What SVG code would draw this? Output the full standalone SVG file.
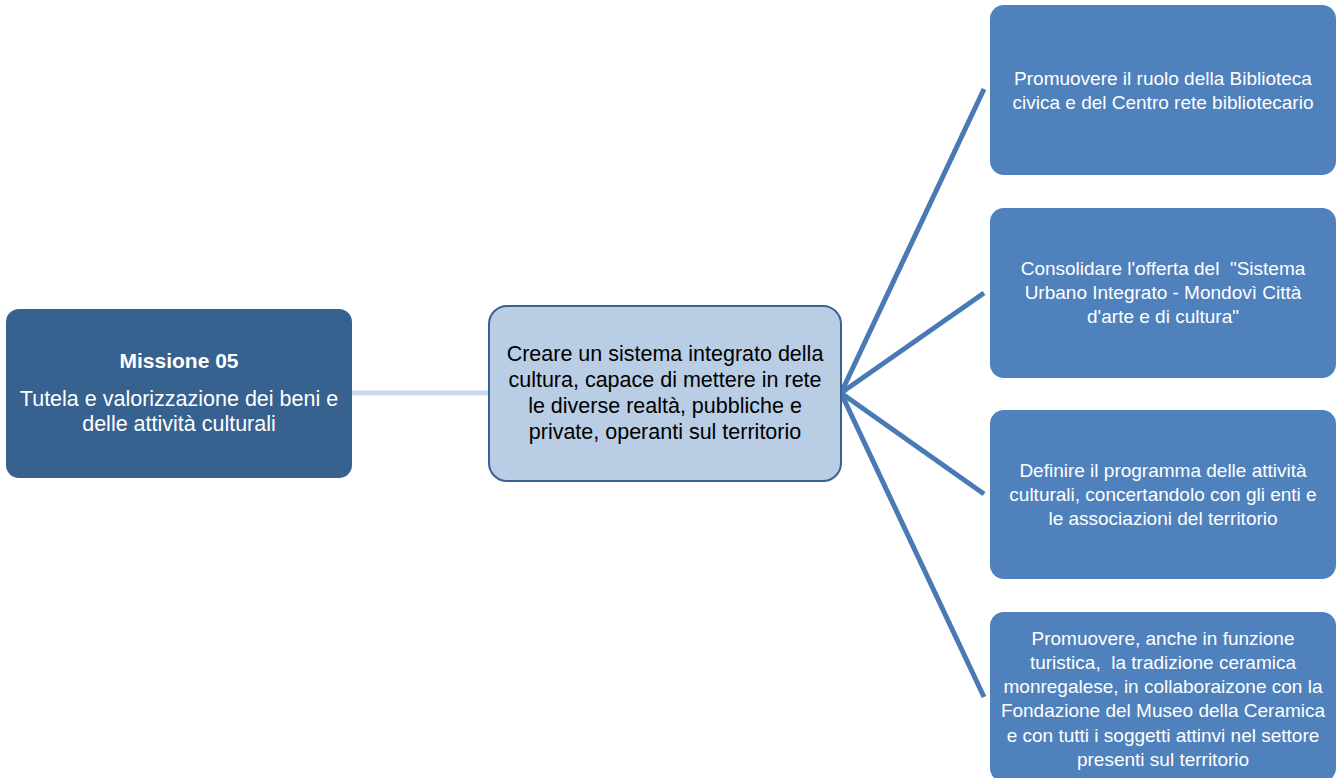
<svg xmlns="http://www.w3.org/2000/svg" width="1344" height="778" viewBox="0 0 1344 778">
<style>
.t{font-family:"Liberation Sans",Arial,sans-serif;text-anchor:middle}
.w{fill:#ffffff}
.k{fill:#000000}
.obj{fill:#4f81bd}
.con{stroke:#4a7ab5;stroke-width:5;fill:none;stroke-linecap:butt}
</style>
<rect width="1344" height="778" fill="#ffffff"/>
<g id="connectors">
<line x1="352" y1="393" x2="489" y2="393" stroke="#c6d9f1" stroke-width="5"/>
<line class="con" x1="841" y1="393" x2="984" y2="89"/>
<line class="con" x1="841" y1="393" x2="984" y2="293"/>
<line class="con" x1="841" y1="393" x2="984" y2="494"/>
<line class="con" x1="841" y1="393" x2="984" y2="697"/>
</g>
<g id="missione">
<rect x="6" y="309" width="346" height="169" rx="13" fill="#37618f"/>
<text class="t w" x="179" y="368" font-size="21" font-weight="bold">Missione 05</text>
<text class="t w" x="179" y="406" font-size="21.5">Tutela e valorizzazione dei beni e</text>
<text class="t w" x="179" y="431" font-size="21.5">delle attività culturali</text>
</g>
<g id="obiettivo">
<rect x="489" y="306" width="352" height="175" rx="18" fill="#b9cde5" stroke="#3a6291" stroke-width="2"/>
<text class="t k" x="665" y="361" font-size="21.5">Creare un sistema integrato della</text>
<text class="t k" x="665" y="387" font-size="21.5">cultura, capace di mettere in rete</text>
<text class="t k" x="665" y="413" font-size="21.5">le diverse realtà, pubbliche e</text>
<text class="t k" x="665" y="439" font-size="21.5">private, operanti sul territorio</text>
</g>
<g id="azione1">
<rect class="obj" x="990" y="5" width="346" height="170" rx="14"/>
<text class="t w" x="1163" y="85" font-size="19">Promuovere il ruolo della Biblioteca</text>
<text class="t w" x="1163" y="109" font-size="19">civica e del Centro rete bibliotecario</text>
</g>
<g id="azione2">
<rect class="obj" x="990" y="208" width="346" height="170" rx="14"/>
<text class="t w" x="1163" y="275" font-size="19" xml:space="preserve">Consolidare l'offerta del  "Sistema</text>
<text class="t w" x="1163" y="299" font-size="19">Urbano Integrato - Mondovì Città</text>
<text class="t w" x="1163" y="323" font-size="19">d'arte e di cultura"</text>
</g>
<g id="azione3">
<rect class="obj" x="990" y="410" width="346" height="169" rx="14"/>
<text class="t w" x="1163" y="477" font-size="19">Definire il programma delle attività</text>
<text class="t w" x="1163" y="501" font-size="19">culturali, concertandolo con gli enti e</text>
<text class="t w" x="1163" y="525" font-size="19">le associazioni del territorio</text>
</g>
<g id="azione4">
<rect class="obj" x="990" y="612" width="346" height="170" rx="14"/>
<text class="t w" x="1163" y="645" font-size="19">Promuovere, anche in funzione</text>
<text class="t w" x="1163" y="669" font-size="19" xml:space="preserve">turistica,  la tradizione ceramica</text>
<text class="t w" x="1163" y="693" font-size="19">monregalese, in collaboraizone con la</text>
<text class="t w" x="1163" y="717" font-size="19">Fondazione del Museo della Ceramica</text>
<text class="t w" x="1163" y="742" font-size="19">e con tutti i soggetti attinvi nel settore</text>
<text class="t w" x="1163" y="766" font-size="19">presenti sul territorio</text>
</g>
</svg>
